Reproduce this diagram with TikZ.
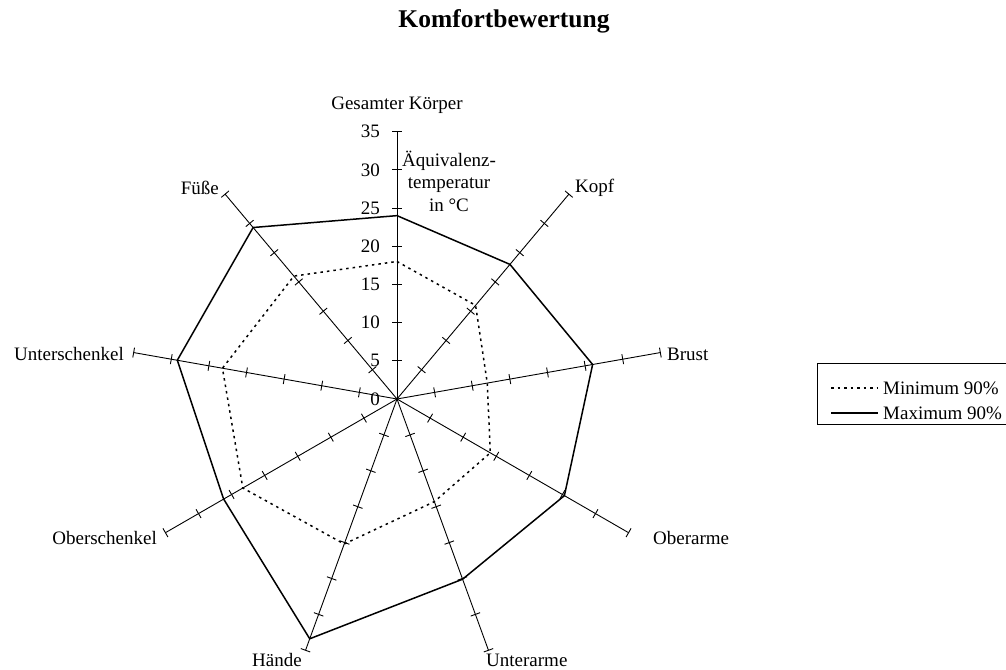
\documentclass[tikz,border=0pt]{standalone}
\usepackage{fontspec}
\setmainfont{Liberation Serif}
\usetikzlibrary{calc}
\begin{document}
\begin{tikzpicture}[x=1pt,y=1pt,
  axisline/.style={line width=0.9pt, black},
  tickmark/.style={line width=0.9pt, black},
  maxline/.style={line width=1.5pt, black, line join=miter},
  minline/.style={line width=1.5pt, black, dash pattern=on 2.5pt off 4pt},
  lbl/.style={font=\fontsize{19}{22.5}\selectfont, inner sep=0pt, text=black},
  ttl/.style={font=\fontsize{25.5}{30}\selectfont\bfseries, inner sep=0pt},
]
\useasboundingbox (0,0) rectangle (1006,669);
\def\s{7.64}
\coordinate (C) at (397,270);

% title
\node[ttl] (title) at (504,648) {Komfortbewertung};

% radial axes with tick marks every 5 units
\foreach \n/\a in {g/90,ko/50,br/10,oa/-30,ua/-70,ha/-110,os/-150,us/170,fu/130}{
  \coordinate (end-\n) at ($(C)+(\a:35*\s)$);
  \draw[axisline] (C) -- (end-\n);
  \foreach \v in {5,10,...,35}{
    \draw[tickmark] ($(C)+(\a:\v*\s)+(\a+90:5)$) -- ($(C)+(\a:\v*\s)+(\a-90:5)$);
  }
}

% scale numbers on the vertical axis
\foreach \v in {0,5,...,35}{
  \node[lbl, anchor=east] (num\v) at ($(C)+(-17,\v*\s)$) {\v};
}
\node[lbl, align=center] (unit) at (449,488) {Äquivalenz-\\temperatur\\in °C};

% axis labels
\node[lbl, anchor=center] (l-g)  at (397,564) {Gesamter Körper};
\node[lbl, anchor=west]   (l-ko) at (575,481) {Kopf};
\node[lbl, anchor=west]   (l-br) at (667,315) {Brust};
\node[lbl, anchor=west]   (l-oa) at (653,131) {Oberarme};
\node[lbl, anchor=west]   (l-ua) at (486,9)   {Unterarme};
\node[lbl, anchor=east]   (l-ha) at (302,9)   {Hände};
\node[lbl, anchor=east]   (l-os) at (157,131) {Oberschenkel};
\node[lbl, anchor=east]   (l-us) at (124,315) {Unterschenkel};
\node[lbl, anchor=east]   (l-fu) at (219,481) {Füße};

% data points
\foreach \n/\a/\mx/\mn in {g/90/24/18, ko/50/23/16, br/10/26/12, oa/-30/25.3/14.1,
    ua/-70/25.1/14.3, ha/-110/33.4/20.2, os/-150/26.2/23.3, us/170/29.2/23.2, fu/130/29.3/21}{
  \coordinate (max-\n) at ($(C)+(\a:\mx*\s)$);
  \coordinate (min-\n) at ($(C)+(\a:\mn*\s)$);
}
\draw[minline] (min-g) -- (min-ko) -- (min-br) -- (min-oa) -- (min-ua) -- (min-ha)
  -- (min-os) -- (min-us) -- (min-fu) -- cycle;
\draw[maxline] (max-g) -- (max-ko) -- (max-br) -- (max-oa) -- (max-ua) -- (max-ha)
  -- (max-os) -- (max-us) -- (max-fu) -- cycle;

% legend
\draw[line width=1pt] (1006,305) -- (817,305) -- (817,244) -- (1006,244);
\coordinate (lg1a) at (831,281);
\coordinate (lg1b) at (878,281);
\coordinate (lg2a) at (831,256);
\coordinate (lg2b) at (878,256);
\draw[minline] (lg1a) -- (lg1b);
\draw[maxline] (lg2a) -- (lg2b);
\node[lbl, anchor=west] (lgt1) at (883,281) {Minimum 90\%};
\node[lbl, anchor=west] (lgt2) at (883,256) {Maximum 90\%};
\end{tikzpicture}
\end{document}
